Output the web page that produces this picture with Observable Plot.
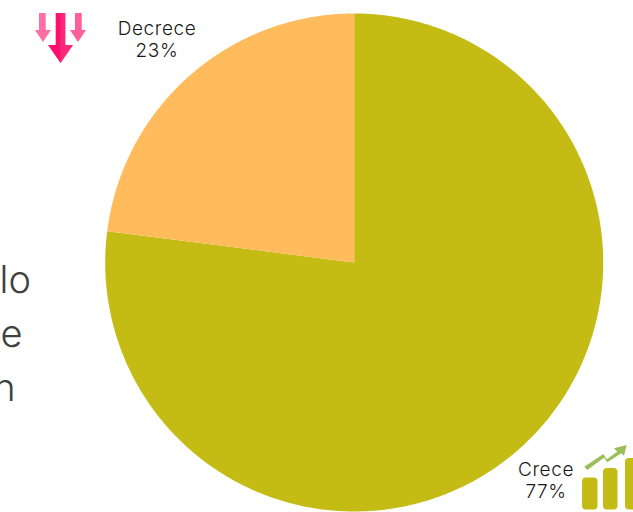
<!DOCTYPE html>
<html><head><meta charset="utf-8">
<script src="https://cdn.jsdelivr.net/npm/d3@7"></script>
<script src="https://cdn.jsdelivr.net/npm/@observablehq/plot@0.6"></script>
<style>html,body{margin:0;padding:0;background:#fff;overflow:hidden}svg{display:block}.lab text{letter-spacing:.6px}</style>
</head><body><div id="chart"></div>
<script>
const categories = ["Crece", "Decrece"];
const shares = [77, 23];
const sliceColors = ["#c4bc14", "#ffbb5c"];
const clippedText = ["lo", "e", "n"];

const W = 633, H = 512, cx = 353.7, cy = 262, R = 249;
const pie = d3.pie().sort(null)(shares);
const slices = pie.flatMap((s, i) => {
  const n = Math.ceil((s.endAngle - s.startAngle) / 0.01);
  const pts = [{name: categories[i], x: 0, y: 0}];
  for (let k = 0; k <= n; k++) {
    const a = s.startAngle + (s.endAngle - s.startAngle) * k / n;
    pts.push({name: categories[i], x: Math.sin(a), y: Math.cos(a)});
  }
  pts.push({name: categories[i], x: 0, y: 0});
  return pts;
});
const px = v => (v - cx) / R, py = v => (cy - v) / R;
const labels = [
  {t: `${categories[1]}\n${shares[1]}%`, x: px(156.5), y: py(38.5)},
  {t: `${categories[0]}\n${shares[0]}%`, x: px(545.5), y: py(479.5)}
];
const sideText = clippedText.map((t, i) => ({t, x: px([30.5, 22, 15][i]), y: py([280, 334, 388][i])}));

function icons() {
  const svg = `<svg xmlns="http://www.w3.org/2000/svg">
  <g>
    <path fill="#ff6fa3" d="M39 13h6.7v17H51L43 42 35 30h4z"/>
    <path fill="#ff5f9a" d="M75 13h6.700v17H86L78 42 70 30h5z"/>
    <path fill="#ff0f6e" d="M55.700 13h9.600v32H73L60.500 63 48 45h7.700z"/>
    <path fill="#ff4088" d="M60.500 13h4.800v32H73L60.500 63z" opacity=".55"/>
  </g>
  <g fill="#c4bc14">
    <rect x="582" y="477.500" width="15.500" height="32" rx="4"/>
    <rect x="603" y="468" width="14.500" height="41.500" rx="4"/>
    <rect x="625" y="458" width="14" height="51.500" rx="4"/>
  </g>
  <path fill="#9bbf57" d="M584.300 466.700L603.300 454 606.700 459.300 617.300 451.700 614 448.300 626.700 445 624 455.700 621.300 453.300 607.300 462.300 604 457.700 587.300 470z"/>
  </svg>`;
  const g = new DOMParser().parseFromString(svg, "image/svg+xml").documentElement;
  const out = document.createElementNS("http://www.w3.org/2000/svg", "g");
  while (g.firstChild) { out.appendChild(document.importNode(g.firstChild, true)); g.removeChild(g.firstChild); }
  return out;
}

const plot = Plot.plot({
  width: W, height: H, margin: 0,
  style: {background: "#fff", fontFamily: "Inter, sans-serif"},
  x: {domain: [px(0), px(W)], range: [0, W], axis: null},
  y: {domain: [py(H), py(0)], range: [H, 0], axis: null},
  color: {domain: categories, range: sliceColors},
  marks: [
    Plot.line(slices, {x: "x", y: "y", z: "name", fill: "name", stroke: null, curve: "linear"}),
    Plot.text(sideText, {x: "x", y: "y", text: "t", textAnchor: "end", fontSize: 38, fill: "#404040", fontWeight: 300, lineAnchor: "middle"}),
    Plot.text(labels, {x: "x", y: "y", text: "t", fontSize: 19, lineHeight: 1.16, fill: "#1a1a1a", fontWeight: 300, className: "lab"}),
    icons
  ]
});
document.getElementById("chart").appendChild(plot);
</script></body></html>
